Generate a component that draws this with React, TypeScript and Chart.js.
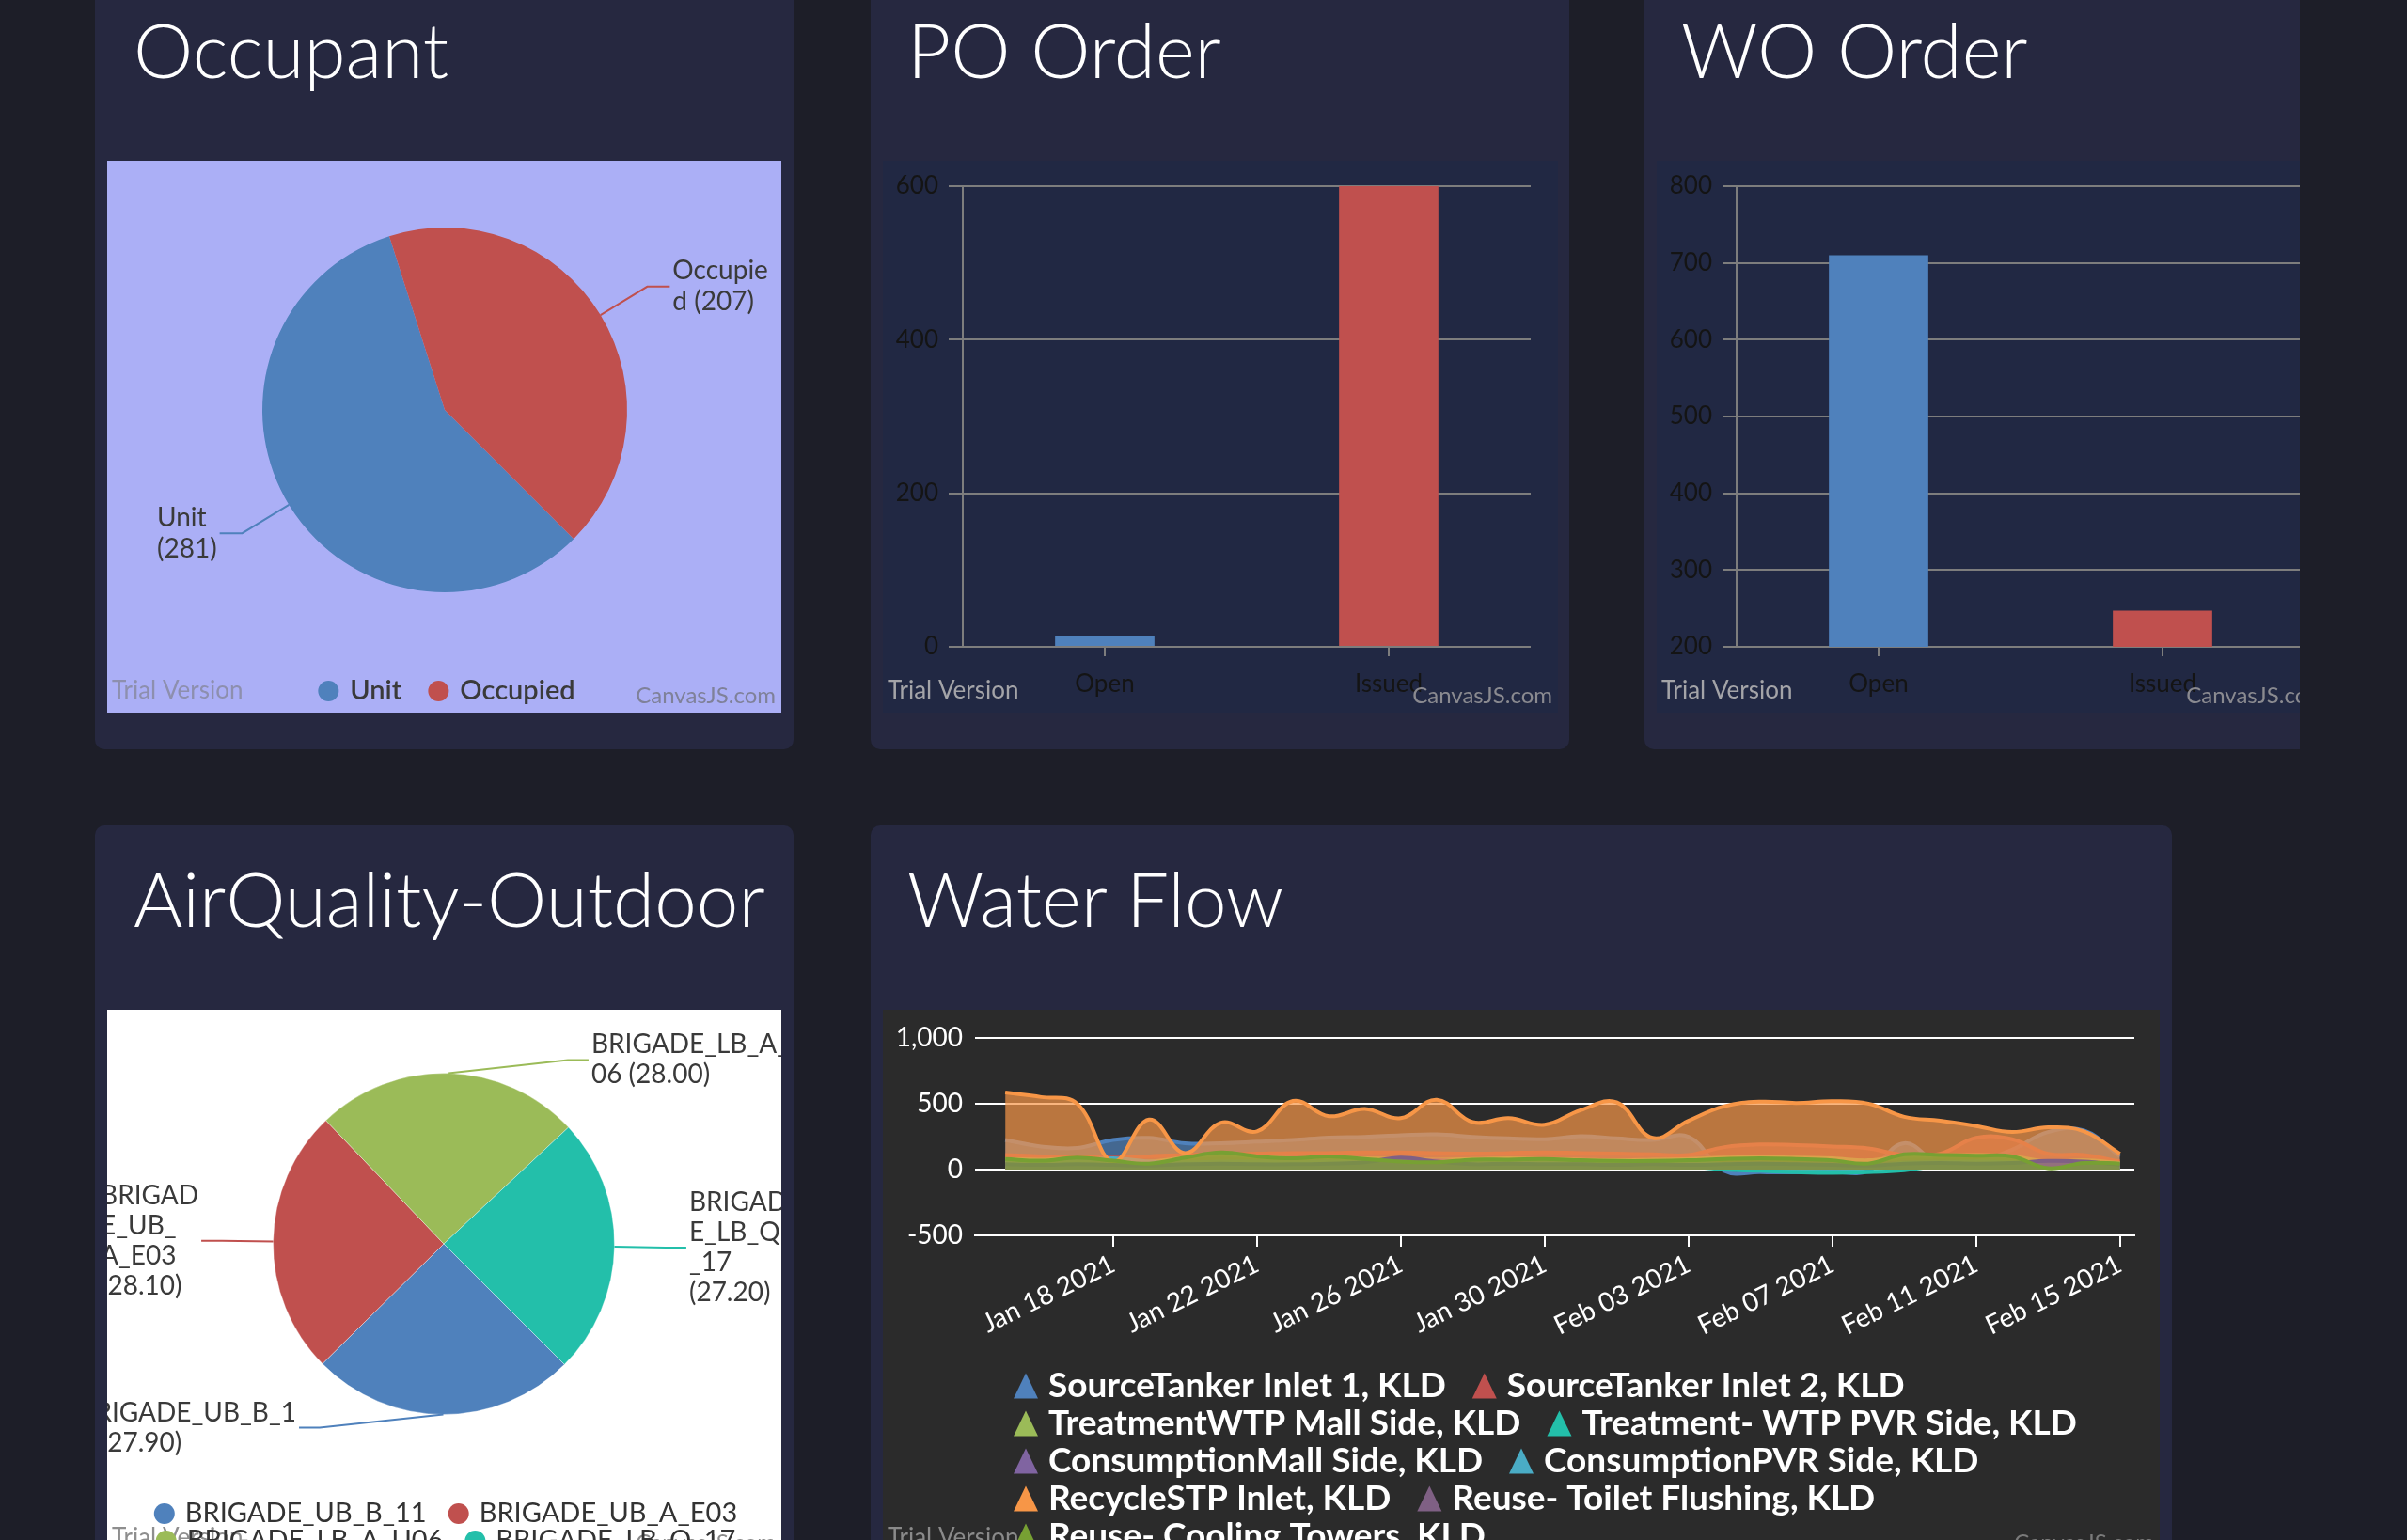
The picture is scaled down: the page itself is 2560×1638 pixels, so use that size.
import React, { useEffect, useRef } from "react";
import { Chart, registerables } from "chart.js";

Chart.register(...registerables);

const FONT = "Lato, 'Noto Sans', sans-serif";

// ---------------- Occupant ----------------
const occupantCategories = ["Unit", "Occupied"];
const occupantValues = [281, 207];
const occupantColors = ["#4F81BC", "#C0504E"];
const occupantIndexLabels = [["Unit", "(281)"], ["Occupie", "d (207)"]];

// ---------------- PO / WO orders ----------------
const orderColors = ["#4F81BC", "#C0504E"];
const poCategories = ["Open", "Issued"];
const poValues = [14, 600];
const poTickValues = [0, 200, 400, 600];
const woCategories = ["Open", "Issued"];
const woValues = [710, 247];
const woTickValues = [200, 300, 400, 500, 600, 700, 800];

// ---------------- AirQuality-Outdoor ----------------
const airCategories = ["BRIGADE_UB_B_11", "BRIGADE_UB_A_E03", "BRIGADE_LB_A_U06", "BRIGADE_LB_Q_17"];
const airValues = [27.9, 28.1, 28.0, 27.2];
const airColors = ["#4F81BC", "#C0504E", "#9BBB58", "#23BFAA"];
const airIndexLabels = [
  ["BRIGADE_UB_B_1", "1 (27.90)"],
  ["BRIGAD", "E_UB_", "A_E03", "(28.10)"],
  ["BRIGADE_LB_A_U", "06 (28.00)"],
  ["BRIGAD", "E_LB_Q", "_17", "(27.20)"],
];

// ---------------- Water Flow ----------------
const flowDates = [
  "2021-01-15", "2021-01-16", "2021-01-17", "2021-01-18", "2021-01-19", "2021-01-20", "2021-01-21", "2021-01-22",
  "2021-01-23", "2021-01-24", "2021-01-25", "2021-01-26", "2021-01-27", "2021-01-28", "2021-01-29", "2021-01-30",
  "2021-01-31", "2021-02-01", "2021-02-02", "2021-02-03", "2021-02-04", "2021-02-05", "2021-02-06", "2021-02-07",
  "2021-02-08", "2021-02-09", "2021-02-10", "2021-02-11", "2021-02-12", "2021-02-13", "2021-02-14", "2021-02-15",
];
const flowTickDates = ["2021-01-18", "2021-01-22", "2021-01-26", "2021-01-30", "2021-02-03", "2021-02-07", "2021-02-11", "2021-02-15"];
const monthNames = ["Jan", "Feb", "Mar", "Apr", "May", "Jun", "Jul", "Aug", "Sep", "Oct", "Nov", "Dec"];
const flowYTicks = [-500, 0, 500, 1000];

const flowSeriesNames = [
  "SourceTanker Inlet 1, KLD",
  "SourceTanker Inlet 2, KLD",
  "TreatmentWTP Mall Side, KLD",
  "Treatment- WTP PVR Side, KLD",
  "ConsumptionMall Side, KLD",
  "ConsumptionPVR Side, KLD",
  "RecycleSTP Inlet, KLD",
  "Reuse- Toilet Flushing, KLD",
  "Reuse- Cooling Towers, KLD",
];
const flowColors = ["#4F81BC", "#C0504E", "#9BBB58", "#23BFAA", "#8064A1", "#4AACC5", "#F79647", "#7F6084", "#77A033"];

const sourceTankerInlet1 = [224, 175, 163, 225, 240, 200, 200, 211, 224, 243, 248, 260, 267, 248, 236, 230, 252, 236, 224, 248, -10, -20, -22, -18, -10, 200, 40, 60, 150, 284, 296, 100];
const sourceTankerInlet2 = [110, 100, 95, 90, 100, 110, 115, 120, 125, 125, 130, 130, 125, 120, 125, 130, 125, 120, 115, 110, 170, 190, 185, 175, 160, 110, 120, 240, 230, 120, 110, 60];
const treatmentWtpMall = [80, 75, 85, 70, 60, 90, 110, 95, 85, 90, 85, 80, 75, 80, 85, 80, 75, 70, 75, 80, 90, 95, 90, 85, 70, 100, 105, 110, 100, 60, 70, 50];
const treatmentWtpPvr = [40, 35, 30, 50, 35, 30, 30, 35, 30, 30, 35, 30, 30, 35, 30, 30, 35, 30, 30, 25, 0, -10, -20, -25, -20, -5, 30, 35, 30, 25, 20, 15];
const consumptionMall = [50, 45, 50, 45, 40, 45, 50, 55, 50, 55, 60, 60, 70, 55, 50, 50, 45, 50, 45, 40, 45, 50, 45, 50, 40, 55, 60, 55, 50, 45, 50, 40];
const consumptionPvr = [70, 60, 65, 85, 60, 55, 60, 60, 55, 60, 55, 60, 55, 60, 55, 55, 60, 55, 50, 55, 40, 30, 20, 10, 20, 50, 55, 60, 55, 50, 45, 40];
const recycleStpInlet = [584, 550, 500, 60, 380, 125, 355, 290, 520, 405, 460, 390, 530, 360, 390, 340, 450, 510, 240, 370, 480, 515, 505, 518, 500, 400, 370, 330, 285, 320, 290, 120];
const reuseToiletFlushing = [40, 35, 40, 35, 30, 40, 45, 40, 40, 45, 55, 90, 60, 40, 45, 40, 40, 35, 40, 35, 40, 45, 40, 35, 30, 45, 50, 45, 50, 65, 60, 35];
const reuseCoolingTowers = [80, 67, 90, 67, 45, 90, 130, 100, 85, 100, 80, 60, 55, 75, 75, 80, 70, 65, 65, 70, 80, 85, 80, 70, 45, 115, 110, 105, 100, 10, 50, 45];

const flowSeries = [
  sourceTankerInlet1, sourceTankerInlet2, treatmentWtpMall, treatmentWtpPvr, consumptionMall,
  consumptionPvr, recycleStpInlet, reuseToiletFlushing, reuseCoolingTowers,
];

// ---------------- helpers ----------------
const DAY = 86400000;
const dayIndex = (d: string) => (Date.parse(d) - Date.parse(flowDates[0])) / DAY;
const fmtDate = (d: string) => {
  const [y, m, dd] = d.split("-");
  return `${monthNames[Number(m) - 1]} ${dd} ${y}`;
};
const hexA = (hex: string, a: number) => {
  const n = parseInt(hex.slice(1), 16);
  return `rgba(${(n >> 16) & 255},${(n >> 8) & 255},${n & 255},${a})`;
};

function watermarkPlugin(cfg: any) {
  return {
    id: "watermark",
    afterDraw(chart: any) {
      const ctx = chart.ctx;
      ctx.save();
      ctx.font = `26px ${FONT}`;
      ctx.textBaseline = "middle";
      ctx.textAlign = "left";
      ctx.fillStyle = cfg.trialColor;
      ctx.fillText("Trial Version", 5, cfg.y);
      ctx.font = `24px ${FONT}`;
      ctx.textAlign = "right";
      ctx.fillStyle = cfg.siteColor;
      ctx.fillText("CanvasJS.com", chart.width - 6, cfg.y + 5);
      ctx.restore();
    },
  };
}

function legendPlugin(cfg: any) {
  return {
    id: "customLegend",
    afterDraw(chart: any) {
      const ctx = chart.ctx;
      let items: any[];
      if (cfg.fromLabels) {
        const ds = chart.data.datasets[0];
        items = chart.data.labels.map((l: any, i: number) => ({ text: String(l), color: ds.backgroundColor[i] }));
      } else {
        items = chart.data.datasets.map((ds: any) => ({ text: ds.label, color: ds.borderColor }));
      }
      ctx.save();
      ctx.font = cfg.font;
      ctx.textBaseline = "middle";
      ctx.textAlign = "left";
      for (let r = 0; r * cfg.perRow < items.length; r++) {
        const row = items.slice(r * cfg.perRow, (r + 1) * cfg.perRow);
        const widths = row.map((it: any) => cfg.marker + cfg.markerGap + ctx.measureText(it.text).width);
        const total = widths.reduce((a: number, b: number) => a + b, 0) + cfg.itemGap * (row.length - 1);
        let x = cfg.align === "center" ? cfg.x - total / 2 : cfg.x;
        const y = cfg.y + r * cfg.rowHeight;
        row.forEach((it: any, k: number) => {
          ctx.fillStyle = it.color;
          ctx.beginPath();
          if (cfg.shape === "circle") {
            ctx.arc(x + cfg.marker / 2, y, cfg.marker / 2, 0, Math.PI * 2);
          } else {
            const h = cfg.markerH;
            ctx.moveTo(x + cfg.marker / 2, y - h / 2);
            ctx.lineTo(x + cfg.marker, y + h / 2);
            ctx.lineTo(x, y + h / 2);
            ctx.closePath();
          }
          ctx.fill();
          ctx.fillStyle = cfg.color;
          ctx.fillText(it.text, x + cfg.marker + cfg.markerGap, y + (cfg.textDy || 0));
          x += widths[k] + cfg.itemGap;
        });
      }
      ctx.restore();
    },
  };
}

function pieLabelsPlugin(cfg: any) {
  return {
    id: "pieLabels",
    afterDatasetsDraw(chart: any) {
      const meta = chart.getDatasetMeta(0);
      const ds = chart.data.datasets[0];
      const ctx = chart.ctx;
      ctx.save();
      ctx.font = cfg.font;
      ctx.textBaseline = "middle";
      ctx.textAlign = "left";
      meta.data.forEach((arc: any, i: number) => {
        const p = arc.getProps(["x", "y", "startAngle", "endAngle", "outerRadius"], true);
        const mid = (p.startAngle + p.endAngle) / 2;
        const c = Math.cos(mid);
        const s = Math.sin(mid);
        const side = c >= 0 ? 1 : -1;
        const vs = s >= 0 ? 1 : -1;
        const th = Math.min(Math.asin(Math.min(1, Math.abs(s))), (cfg.maxAngle * Math.PI) / 180);
        const R = p.outerRadius * cfg.elbow;
        const ex = p.x + side * R * Math.cos(th);
        const ey = p.y + vs * R * Math.sin(th);
        const sx = p.x + p.outerRadius * c;
        const sy = p.y + p.outerRadius * s;
        const tx = ex + side * cfg.tail;
        ctx.strokeStyle = ds.backgroundColor[i];
        ctx.lineWidth = 2;
        ctx.beginPath();
        ctx.moveTo(sx, sy);
        ctx.lineTo(ex, ey);
        ctx.lineTo(tx, ey);
        ctx.stroke();
        const lines: string[] = cfg.lines[i];
        const w = Math.max(...lines.map((l) => ctx.measureText(l).width));
        const left = side > 0 ? tx + 3 : tx - 3 - w;
        const top = ey - (lines.length * cfg.lineHeight) / 2;
        ctx.fillStyle = cfg.color;
        lines.forEach((l, k) => ctx.fillText(l, left, top + cfg.lineHeight * (k + 0.5)));
      });
      ctx.restore();
    },
  };
}

// ---------------- configs ----------------
function occupantConfig(): any {
  return {
    type: "pie",
    data: {
      labels: occupantCategories,
      datasets: [{ data: occupantValues, backgroundColor: occupantColors, borderWidth: 0 }],
    },
    options: {
      animation: false,
      responsive: false,
      rotation: 135,
      layout: { padding: { left: 165, right: 164, top: 71, bottom: 128 } },
      plugins: { legend: { display: false }, tooltip: { enabled: false } },
    },
    plugins: [
      pieLabelsPlugin({ lines: occupantIndexLabels, font: `28px ${FONT}`, color: "#3a3a3a", lineHeight: 33, elbow: 1.3, maxAngle: 56, tail: 24 }),
      legendPlugin({ fromLabels: true, perRow: 2, shape: "circle", marker: 22, markerGap: 12, itemGap: 28, align: "center", x: 361, y: 564, rowHeight: 30, font: `600 29px ${FONT}`, color: "#3a3a3a" }),
      watermarkPlugin({ y: 564, trialColor: "#8d8fae", siteColor: "#7f8199" }),
    ],
  };
}

function orderConfig(categories: string[], values: number[], tickValues: number[]): any {
  const tickFont = { family: FONT, size: 26 };
  return {
    type: "bar",
    data: {
      labels: categories,
      datasets: [{ data: values, backgroundColor: orderColors, barPercentage: 0.35, categoryPercentage: 1 }],
    },
    options: {
      animation: false,
      responsive: false,
      layout: { padding: { top: 27, right: 29, left: 0, bottom: 0 } },
      plugins: { legend: { display: false }, tooltip: { enabled: false } },
      scales: {
        x: {
          grid: { display: true, drawOnChartArea: false, drawTicks: true, tickLength: 10, offset: false, color: "#7d7d7d", lineWidth: 2 },
          border: { display: false },
          ticks: { color: "#141414", font: tickFont, padding: 14 },
          afterFit: (ax: any) => { ax.height = 70; },
        },
        y: {
          min: tickValues[0],
          max: tickValues[tickValues.length - 1],
          afterBuildTicks: (ax: any) => { ax.ticks = tickValues.map((v) => ({ value: v })); },
          ticks: { color: "#141414", font: tickFont, padding: 11 },
          grid: { color: "#7d7d7d", lineWidth: 2, tickLength: 15 },
          border: { display: true, color: "#7d7d7d", width: 2 },
          afterFit: (ax: any) => { ax.width = 85; },
        },
      },
    },
    plugins: [watermarkPlugin({ y: 564, trialColor: "#a4a4a8", siteColor: "#8a8a90" })],
  };
}

function airConfig(): any {
  return {
    type: "pie",
    data: {
      labels: airCategories,
      datasets: [{ data: airValues, backgroundColor: airColors, borderWidth: 1, borderColor: "rgba(255,255,255,0.35)" }],
    },
    options: {
      animation: false,
      responsive: false,
      rotation: 135,
      layout: { padding: { left: 176, right: 177, top: 67, bottom: 156 } },
      plugins: { legend: { display: false }, tooltip: { enabled: false } },
    },
    plugins: [
      watermarkPlugin({ y: 562, trialColor: "#8e8e8e", siteColor: "#8a8a8a" }),
      pieLabelsPlugin({ lines: airIndexLabels, font: `28px ${FONT}`, color: "#3a3a3a", lineHeight: 32, elbow: 1.3, maxAngle: 56, tail: 22 }),
      legendPlugin({ fromLabels: true, perRow: 2, shape: "circle", marker: 22, markerGap: 11, itemGap: 23, align: "center", x: 360, y: 536, rowHeight: 29, font: `29px ${FONT}`, color: "#333333" }),
    ],
  };
}

function flowConfig(): any {
  const tickVals = flowTickDates.map(dayIndex);
  const font = { family: FONT, size: 28 };
  return {
    type: "line",
    data: {
      datasets: flowSeries.map((vals, k) => ({
        label: flowSeriesNames[k],
        data: vals.map((v, i) => ({ x: dayIndex(flowDates[i]), y: v })),
        borderColor: flowColors[k],
        backgroundColor: hexA(flowColors[k], 0.7),
        fill: "origin",
        tension: 0.4,
        pointRadius: 0,
        borderWidth: 4,
        order: flowSeries.length - 1 - k,
      })),
    },
    options: {
      animation: false,
      responsive: false,
      layout: { padding: { top: 28, right: 27, left: 0, bottom: 0 } },
      plugins: { legend: { display: false }, tooltip: { enabled: false } },
      scales: {
        x: {
          type: "linear",
          min: -0.84,
          max: 31.4,
          afterBuildTicks: (ax: any) => { ax.ticks = tickVals.map((v) => ({ value: v })); },
          afterFit: (ax: any) => { ax.height = 347; },
          ticks: {
            autoSkip: false,
            minRotation: 26,
            maxRotation: 26,
            color: "#ffffff",
            font,
            padding: 2,
            callback: (v: number) => {
              const idx = tickVals.indexOf(v);
              return idx >= 0 ? fmtDate(flowTickDates[idx]) : "";
            },
          },
          grid: { drawOnChartArea: false, drawTicks: true, tickLength: 12, color: "#ffffff", lineWidth: 2 },
          border: { display: true, color: "#ffffff", width: 2 },
        },
        y: {
          min: flowYTicks[0],
          max: flowYTicks[flowYTicks.length - 1],
          afterBuildTicks: (ax: any) => { ax.ticks = flowYTicks.map((v) => ({ value: v })); },
          afterFit: (ax: any) => { ax.width = 98; },
          ticks: { color: "#ffffff", font, padding: 13 },
          grid: { color: "#ffffff", lineWidth: 2, drawTicks: false },
          border: { display: false },
        },
      },
    },
    plugins: [
      legendPlugin({ fromLabels: false, perRow: 2, shape: "triangle", marker: 26, markerH: 27, markerGap: 11, itemGap: 28, align: "start", x: 139, y: 400, rowHeight: 40, font: `bold 37px ${FONT}`, color: "#ffffff" }),
      watermarkPlugin({ y: 562, trialColor: "#8a8a8a", siteColor: "#7a7a7a" }),
    ],
  };
}

// ---------------- components ----------------
function ChartBox({ make, left, top, width, height, bg }: any) {
  const ref = useRef<HTMLCanvasElement>(null);
  useEffect(() => {
    const chart = new Chart(ref.current as HTMLCanvasElement, make());
    return () => chart.destroy();
  }, []);
  return (
    <canvas
      ref={ref}
      width={width}
      height={height}
      style={{ position: "absolute", left, top, width, height, background: bg, display: "block" }}
    />
  );
}

const CARD_BG = "#262840";

function Card({ left, top, width, height }: any) {
  return <div style={{ position: "absolute", left, top, width, height, background: CARD_BG, borderRadius: 10 }} />;
}

function Title({ text, left, top }: any) {
  return (
    <div
      style={{
        position: "absolute",
        left,
        top,
        font: `300 80px ${FONT}`,
        lineHeight: "1",
        color: "#ffffff",
        whiteSpace: "nowrap",
      }}
    >
      {text}
    </div>
  );
}

export default function App() {
  return (
    <div style={{ position: "fixed", left: 0, top: 0, width: 2560, height: 1638, overflow: "hidden", background: "#1d1e28" }}>
      <div style={{ position: "absolute", left: 0, top: 0, width: 2446, height: 840, overflow: "hidden" }}>
        <Card left={101} top={-40} width={743} height={837} />
        <Card left={926} top={-40} width={743} height={837} />
        <Card left={1749} top={-40} width={743} height={837} />
        <Title text="Occupant" left={142} top={12} />
        <Title text="PO Order" left={965} top={12} />
        <Title text="WO Order" left={1788} top={12} />
        <ChartBox make={occupantConfig} left={114} top={171} width={717} height={587} bg="#abaff6" />
        <ChartBox make={() => orderConfig(poCategories, poValues, poTickValues)} left={939} top={171} width={718} height={587} bg="#212843" />
        <ChartBox make={() => orderConfig(woCategories, woValues, woTickValues)} left={1762} top={171} width={718} height={587} bg="#212843" />
      </div>
      <Card left={101} top={878} width={743} height={820} />
      <Card left={926} top={878} width={1384} height={820} />
      <Title text="AirQuality-Outdoor" left={142} top={915} />
      <Title text="Water Flow" left={965} top={915} />
      <ChartBox make={airConfig} left={114} top={1074} width={717} height={587} bg="#ffffff" />
      <ChartBox make={flowConfig} left={939} top={1074} width={1358} height={587} bg="#2b2b2b" />
    </div>
  );
}
